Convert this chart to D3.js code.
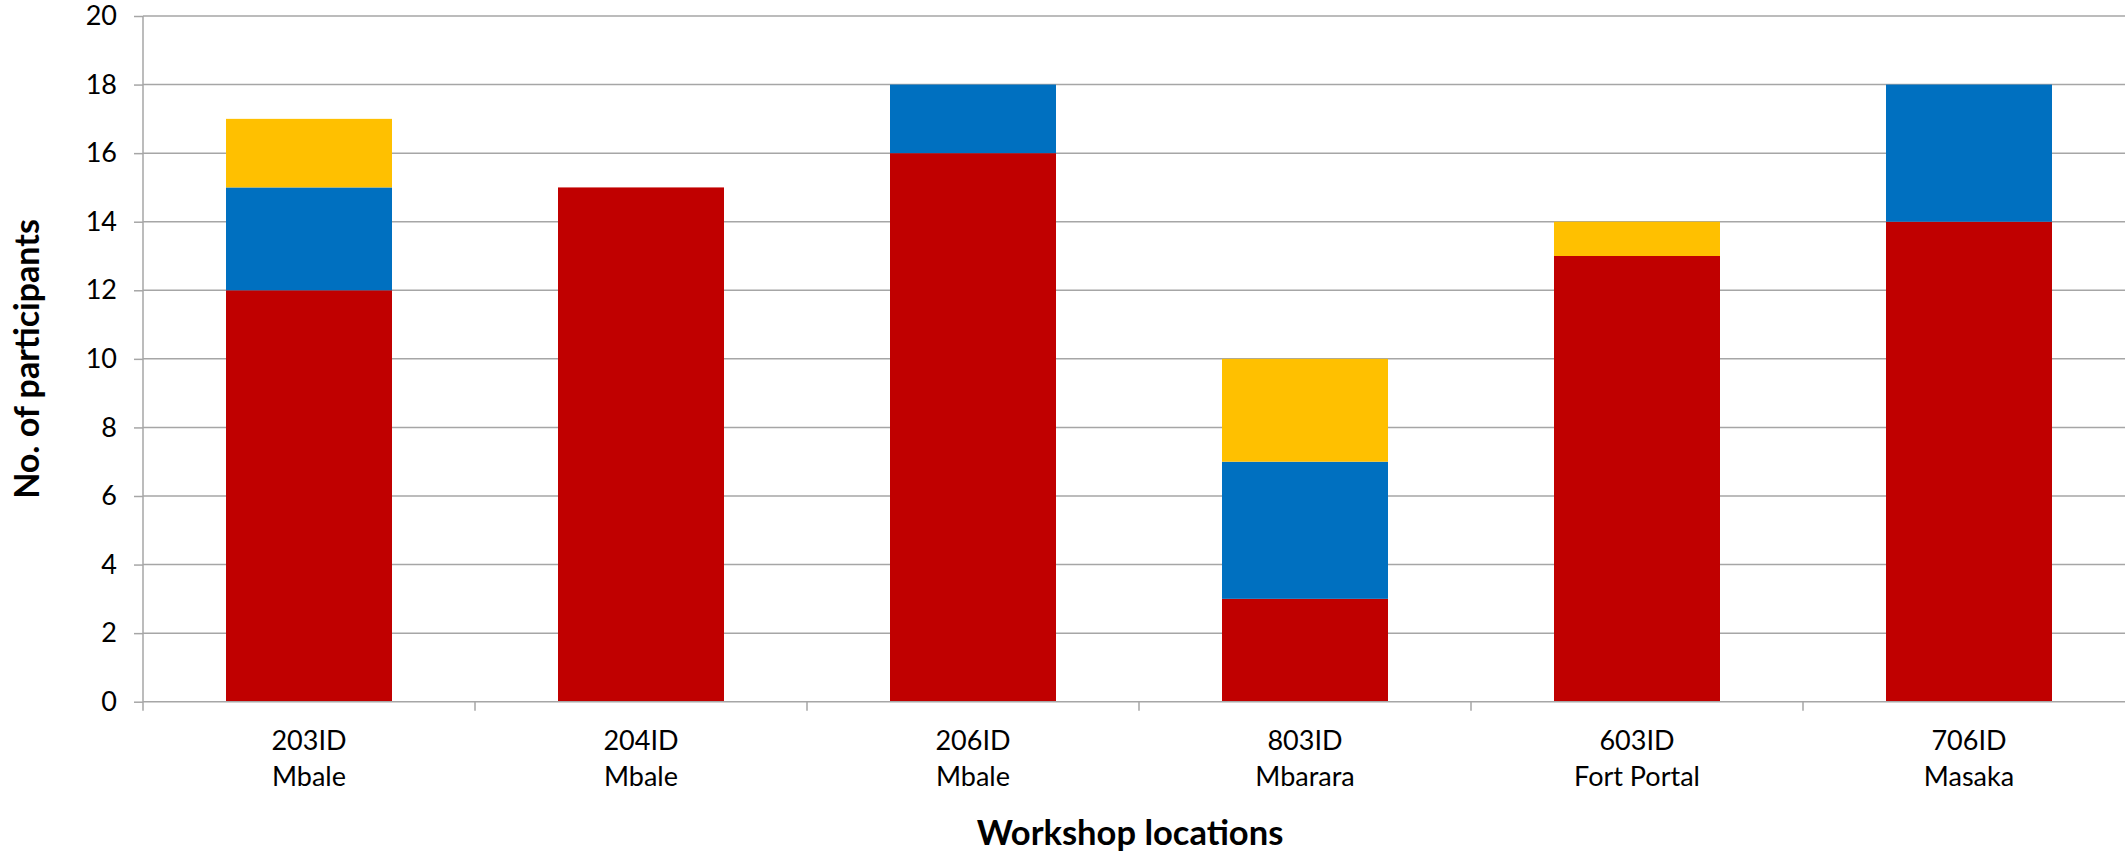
<!DOCTYPE html>
<html>
<head>
<meta charset="utf-8">
<script src="https://cdn.jsdelivr.net/npm/d3@7/dist/d3.min.js"></script>
<style>
  html, body { margin: 0; padding: 0; background: #fff; }
  svg { display: block; }
  text { font-family: Lato, "Open Sans", sans-serif; fill: #000; }
</style>
</head>
<body>
<svg id="chart" width="2125" height="851"></svg>
<script>
const categories = ["203ID|Mbale", "204ID|Mbale", "206ID|Mbale", "803ID|Mbarara", "603ID|Fort Portal", "706ID|Masaka"];
const seriesRed = [12, 15, 16, 3, 13, 14];
const seriesBlue = [3, 0, 2, 4, 0, 4];
const seriesYellow = [2, 0, 0, 3, 1, 0];
const yTicks = [0, 2, 4, 6, 8, 10, 12, 14, 16, 18, 20];
const seriesKeys = ["red", "blue", "yellow"];
const seriesColors = { red: "#C00000", blue: "#0070C0", yellow: "#FFC000" };

const table = categories.map((c, i) => ({ cat: c, red: seriesRed[i], blue: seriesBlue[i], yellow: seriesYellow[i] }));

const svg = d3.select("#chart");
const mLeft = 143, mTop = 16, mBottom = 701.7, bandW = 332;
const mRight = mLeft + bandW * categories.length;

const x = d3.scaleBand().domain(categories).range([mLeft, mRight]).paddingInner(0.5).paddingOuter(0.25);
const y = d3.scaleLinear().domain([0, 20]).range([mBottom, mTop]);

// gridlines
svg.append("g").selectAll("line").data(yTicks.filter(d => d > 0)).join("line")
  .attr("x1", mLeft).attr("x2", mRight)
  .attr("y1", d => y(d)).attr("y2", d => y(d))
  .attr("stroke", "#A6A6A6").attr("stroke-width", 1.5);

// bars
const stack = d3.stack().keys(seriesKeys)(table);
svg.append("g").selectAll("g").data(stack).join("g")
  .attr("fill", d => seriesColors[d.key])
  .selectAll("rect").data(d => d.filter(p => p[1] - p[0] > 0)).join("rect")
  .attr("x", d => x(d.data.cat))
  .attr("width", x.bandwidth())
  .attr("y", d => y(d[1]))
  .attr("height", d => y(d[0]) - y(d[1]));

// y axis
const yAxis = d3.axisLeft(y).tickValues(yTicks).tickSize(9).tickPadding(17);
const gy = svg.append("g").attr("transform", `translate(${mLeft},0)`).call(yAxis);
gy.select(".domain").attr("stroke", "#A6A6A6").attr("stroke-width", 1.5).attr("d", `M0,${mTop}V${mBottom + 9}`);
gy.selectAll(".tick line").attr("stroke", "#A6A6A6").attr("stroke-width", 1.5);
gy.selectAll(".tick text").style("font-family", "Lato, sans-serif").style("font-size", "27px").attr("fill", "#000");

// x axis
const xBound = d3.scaleLinear().domain([0, categories.length]).range([mLeft, mRight]);
const gx = svg.append("g");
gx.append("line").attr("x1", mLeft).attr("x2", mRight).attr("y1", mBottom).attr("y2", mBottom)
  .attr("stroke", "#A6A6A6").attr("stroke-width", 1.5);
gx.selectAll(".xt").data(d3.range(1, categories.length + 1)).join("line").attr("class", "xt")
  .attr("x1", d => xBound(d)).attr("x2", d => xBound(d)).attr("y1", mBottom).attr("y2", mBottom + 9)
  .attr("stroke", "#A6A6A6").attr("stroke-width", 1.5);
const xl = gx.selectAll(".xl").data(categories).join("text").attr("class", "xl")
  .attr("text-anchor", "middle").style("font-size", "27px")
  .attr("x", d => x(d) + x.bandwidth() / 2);
xl.append("tspan").attr("x", d => x(d) + x.bandwidth() / 2).attr("y", 750).text(d => d.split("|")[0]);
xl.append("tspan").attr("x", d => x(d) + x.bandwidth() / 2).attr("y", 786).text(d => d.split("|")[1]);

// axis titles
svg.append("text").attr("x", (mLeft + 2125) / 2 - 4).attr("y", 845).attr("text-anchor", "middle")
  .style("font-size", "34.5px").style("font-weight", "bold").text("Workshop locations");
svg.append("text").attr("transform", `translate(39,359) rotate(-90)`).attr("text-anchor", "middle")
  .style("font-size", "34px").style("font-weight", "bold").text("No. of participants");
</script>
</body>
</html>
